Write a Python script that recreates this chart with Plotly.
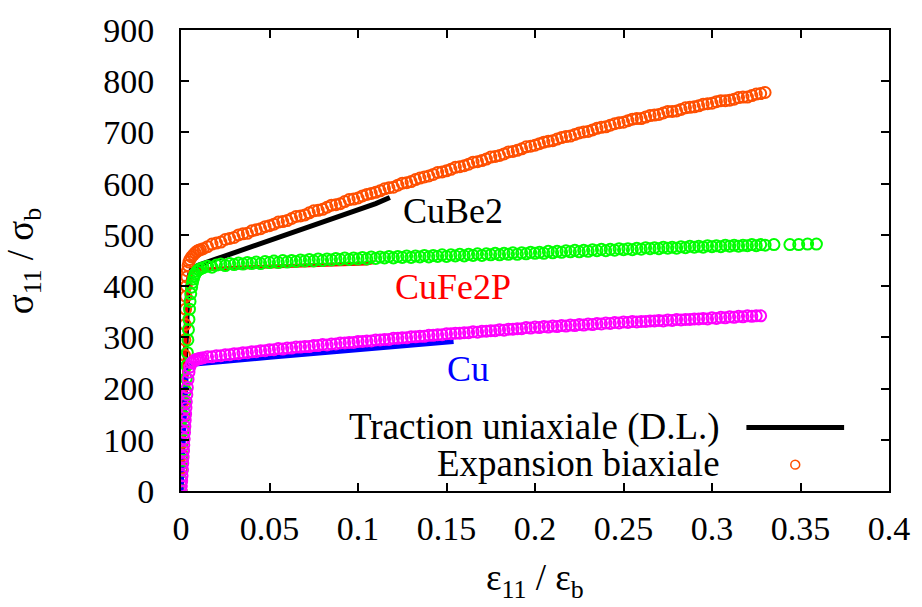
import plotly.graph_objects as go

# ---------------- data ----------------
# biaxial expansion (open circles): steep elastic part + hardening plateau
PLATEAU_X = [0.0125, 0.015, 0.0175, 0.02, 0.0225, 0.025, 0.0275, 0.03, 0.0325, 0.035, 0.0375, 0.04,
             0.0425, 0.045, 0.0475, 0.05,
             0.0525, 0.055, 0.0575, 0.06, 0.0625, 0.065, 0.0675, 0.07, 0.0725, 0.075,
             0.0775, 0.08, 0.0825, 0.085, 0.0875, 0.09, 0.0925, 0.095, 0.0975, 0.1,
             0.1025, 0.105, 0.1075, 0.11, 0.1125, 0.115, 0.1175, 0.12, 0.1225, 0.125,
             0.1275, 0.13, 0.1325, 0.135, 0.1375, 0.14, 0.1425, 0.145, 0.1475, 0.15,
             0.1525, 0.155, 0.1575, 0.16, 0.1625, 0.165, 0.1675, 0.17, 0.1725, 0.175,
             0.1775, 0.18, 0.1825, 0.185, 0.1875, 0.19, 0.1925, 0.195, 0.1975, 0.2,
             0.2025, 0.205, 0.2075, 0.21, 0.2125, 0.215, 0.2175, 0.22, 0.2225, 0.225,
             0.2275, 0.23, 0.2325, 0.235, 0.2375, 0.24, 0.2425, 0.245, 0.2475, 0.25,
             0.2525, 0.255, 0.2575, 0.26, 0.2625, 0.265, 0.2675, 0.27, 0.2725, 0.275,
             0.2775, 0.28, 0.2825, 0.285, 0.2875, 0.29, 0.2925, 0.295, 0.2975, 0.3,
             0.3025, 0.305, 0.3075, 0.31, 0.3125, 0.315, 0.3175, 0.32, 0.3225, 0.325,
             0.3275, 0.33]

cube2_bi_el_x = [0, 0.0002, 0.0004, 0.0006, 0.0008, 0.001, 0.0012, 0.0014, 0.0016, 0.0018,
                 0.002, 0.0022, 0.0024, 0.0026, 0.0028, 0.003, 0.0033, 0.0036, 0.004, 0.0045,
                 0.005, 0.006, 0.007, 0.008, 0.009, 0.010, 0.011]
cube2_bi_el_y = [0, 20, 45, 70, 95, 120, 145, 175, 205, 235,
                 265, 295, 325, 355, 380, 400, 418, 430, 440, 447,
                 452, 457, 461, 465, 468, 470, 471]
cube2_bi_plateau = [473, 477, 482, 484, 486, 491, 493, 495, 500, 502, 503, 508,
                    510, 512, 516, 518,
                    521, 525, 526, 528, 532, 536, 537, 539, 543, 547,
                    548, 550, 554, 558, 559, 561, 565, 569, 570, 572,
                    576, 579, 581, 583, 586, 590, 592, 593, 597, 601,
                    602, 604, 608, 611, 613, 615, 618, 622, 623, 625,
                    628, 632, 633, 635, 638, 642, 643, 645, 648, 652,
                    653, 655, 658, 662, 663, 665, 668, 672, 673, 675,
                    678, 681, 683, 684, 687, 690, 692, 693, 696, 699,
                    701, 702, 705, 708, 710, 711, 714, 717, 719, 720,
                    723, 726, 727, 727, 730, 733, 734, 735, 738, 741,
                    741, 742, 745, 748, 749, 750, 752, 755, 756, 757,
                    760, 762, 762, 763, 765, 768, 769, 769, 772, 775,
                    776, 778]

cufe2p_bi_el_x = [0, 0.0003, 0.0006, 0.0009, 0.0012, 0.0015, 0.0018, 0.0021, 0.0024, 0.0027,
                  0.003, 0.0033, 0.0036, 0.0039, 0.0042, 0.0045, 0.0048, 0.0051, 0.0055, 0.006,
                  0.0065, 0.007, 0.0075, 0.008, 0.009, 0.010, 0.011]
cufe2p_bi_el_y = [0, 20, 40, 60, 80, 100, 120, 145, 170, 195,
                  220, 245, 270, 295, 315, 335, 355, 370, 385, 398,
                  407, 414, 420, 424, 429, 432, 434]
cufe2p_bi_plateau = [436, 439, 437, 441, 443, 440, 444, 442, 445, 443, 446, 444,
                     447, 444, 448, 446,
                     449, 446, 450, 447, 450, 448, 451, 449, 452, 449,
                     453, 450, 453, 451, 454, 452, 455, 452, 455, 453,
                     456, 453, 457, 454, 457, 455, 458, 455, 458, 456,
                     459, 456, 459, 457, 460, 457, 460, 458, 461, 458,
                     461, 459, 462, 459, 462, 460, 463, 460, 463, 461,
                     464, 461, 464, 462, 465, 462, 465, 463, 466, 464,
                     466, 464, 468, 465, 468, 466, 469, 467, 470, 467,
                     470, 468, 471, 469, 472, 469, 472, 470, 473, 471,
                     473, 471, 474, 472, 475, 473, 475, 473, 476, 474,
                     476, 474, 477, 475, 478, 476, 478, 476, 479, 477,
                     479, 477, 480, 478, 480, 478, 480, 479, 481, 479,
                     481, 480]
cufe2p_bi_tail_x = [0.335, 0.344, 0.349, 0.354, 0.359]
cufe2p_bi_tail_y = [481, 481, 481, 482, 482]

cu_bi_el_x = [0, 0.0002, 0.0004, 0.0006, 0.0008, 0.001, 0.0012, 0.0014, 0.0016, 0.0018,
              0.002, 0.0022, 0.0024, 0.0026, 0.0028, 0.003, 0.0033, 0.0036, 0.004, 0.0045,
              0.005, 0.006, 0.007, 0.008, 0.009, 0.010, 0.011]
cu_bi_el_y = [0, 10, 20, 30, 42, 54, 66, 78, 90, 102,
              114, 126, 138, 150, 162, 174, 188, 202, 218, 232,
              242, 250, 253, 256, 257, 258, 259]
cu_bi_plateau = [260, 262, 262, 264, 264, 266, 266, 268, 268, 270, 270, 272,
                 272, 274, 274, 276,
                 276, 278, 277, 279, 279, 281, 281, 282, 282, 284, 284, 286, 285, 287,
                 287, 289, 289, 290, 290, 292,
                 292, 293, 293, 295, 295, 296, 296, 298, 298, 299, 299, 301, 301, 302,
                 302, 304, 304, 305, 305, 307,
                 307, 308, 308, 309, 309, 311, 310, 312, 312, 313, 313, 315, 314, 316,
                 316, 317, 317, 319, 318, 320,
                 319, 321, 320, 322, 321, 323, 322, 324, 323, 325, 324, 326, 325, 327,
                 326, 328, 327, 329, 328, 330,
                 329, 331, 330, 331, 331, 332, 332, 333, 332, 334, 333, 335, 334, 335,
                 335, 336, 336, 337, 336, 338,
                 337, 339, 338, 340, 339, 341, 340, 342, 341, 342,
                 342]

# uniaxial traction (thick lines)
cube2_uni_x = [0, 0.001, 0.002, 0.003, 0.004, 0.005, 0.006, 0.008, 0.010, 0.02, 0.03,
               0.04, 0.05, 0.06, 0.07, 0.08, 0.09, 0.10, 0.11, 0.118]
cube2_uni_y = [0, 120, 240, 340, 400, 425, 433, 438, 441, 453, 465,
               477, 488, 500, 512, 524, 536, 548, 561, 573]
cufe2p_uni_x = [0, 0.001, 0.002, 0.003, 0.004, 0.005, 0.007, 0.01, 0.03, 0.06, 0.09, 0.105, 0.109]
cufe2p_uni_y = [0, 130, 260, 370, 415, 425, 430, 432, 436, 439, 442, 444, 447]
cu_uni_x = [0, 0.001, 0.002, 0.003, 0.004, 0.006, 0.008, 0.05, 0.1, 0.154]
cu_uni_y = [0, 90, 180, 232, 243, 246, 248, 261, 276, 292]

x_tickvals = [0, 0.05, 0.1, 0.15, 0.2, 0.25, 0.3, 0.35, 0.4]
x_ticktext = ["0", "0.05", "0.1", "0.15", "0.2", "0.25", "0.3", "0.35", "0.4"]
y_tickvals = [0, 100, 200, 300, 400, 500, 600, 700, 800, 900]

material_labels = ["CuBe2", "CuFe2P", "Cu"]
label_x = [0.1538, 0.1538, 0.1623]
label_y = [546, 399, 239]
label_colors = ["#000000", "#ff0000", "#0000ff"]

legend_texts = ["Traction uniaxiale (D.L.)", "Expansion biaxiale"]

# ---------------- figure ----------------
FONT = "Liberation Serif"
C_ORANGE = "#ff4f00"
C_GREEN = "#00ff00"
C_MAGENTA = "#ff00ff"

fig = go.Figure()

# uniaxial lines
fig.add_trace(go.Scatter(x=cube2_uni_x, y=cube2_uni_y, mode="lines",
                         line=dict(color="#000000", width=5)))
fig.add_trace(go.Scatter(x=cufe2p_uni_x, y=cufe2p_uni_y, mode="lines",
                         line=dict(color="#ff0000", width=4)))
fig.add_trace(go.Scatter(x=cu_uni_x, y=cu_uni_y, mode="lines",
                         line=dict(color="#0000ff", width=5)))


def circles(color):
    return dict(symbol="circle-open", size=11, color=color, line=dict(width=2, color=color))


fig.add_trace(go.Scatter(x=cube2_bi_el_x + PLATEAU_X[:len(cube2_bi_plateau)],
                         y=cube2_bi_el_y + cube2_bi_plateau,
                         mode="markers", marker=circles(C_ORANGE)))
fig.add_trace(go.Scatter(x=cufe2p_bi_el_x + PLATEAU_X[:len(cufe2p_bi_plateau)] + cufe2p_bi_tail_x,
                         y=cufe2p_bi_el_y + cufe2p_bi_plateau + cufe2p_bi_tail_y,
                         mode="markers", marker=circles(C_GREEN)))
fig.add_trace(go.Scatter(x=cu_bi_el_x + PLATEAU_X[:len(cu_bi_plateau)],
                         y=cu_bi_el_y + cu_bi_plateau,
                         mode="markers", marker=circles(C_MAGENTA)))

annotations = []
for t, xx, yy, c in zip(material_labels, label_x, label_y, label_colors):
    annotations.append(dict(x=xx, y=yy, xref="x", yref="y", text=t, showarrow=False,
                            font=dict(family=FONT, size=36, color=c),
                            xanchor="center", yanchor="middle"))

# manual legend (text left of samples, gnuplot style)
annotations.append(dict(x=0.764, y=0.138, xref="paper", yref="paper", text=legend_texts[0],
                        showarrow=False, xanchor="right", yanchor="middle",
                        font=dict(family=FONT, size=37, color="#000000")))
annotations.append(dict(x=0.764, y=0.059, xref="paper", yref="paper", text=legend_texts[1],
                        showarrow=False, xanchor="right", yanchor="middle",
                        font=dict(family=FONT, size=37, color="#000000")))

# axis titles
annotations.append(dict(x=0.5, y=-0.195, xref="paper", yref="paper",
                        text="ε<sub>11</sub> / ε<sub>b</sub>", showarrow=False,
                        xanchor="center", yanchor="middle",
                        font=dict(family=FONT, size=37, color="#000000")))
annotations.append(dict(x=-0.222, y=0.5, xref="paper", yref="paper",
                        text="σ<sub>11</sub> / σ<sub>b</sub>", showarrow=False,
                        textangle=-90, xanchor="center", yanchor="middle",
                        font=dict(family=FONT, size=37, color="#000000")))

shapes = [
    dict(type="line", xref="paper", yref="paper", x0=0.7986, x1=0.9366, y0=0.138, y1=0.138,
         line=dict(color="#000000", width=5)),
    dict(type="circle", xref="paper", yref="paper",
         x0=0.8676 - 0.0063, x1=0.8676 + 0.0063, y0=0.057 - 0.0095, y1=0.057 + 0.0095,
         line=dict(color=C_ORANGE, width=1.5)),
]

axis_common = dict(showgrid=False, zeroline=False, showline=True, linecolor="#000000",
                   linewidth=2, mirror="allticks", ticks="inside", ticklen=8,
                   tickwidth=1.5, tickcolor="#000000",
                   tickfont=dict(family=FONT, size=34, color="#000000"))

fig.update_layout(
    width=922, height=607, autosize=False,
    margin=dict(l=181, r=31, t=20, b=116, pad=0),
    paper_bgcolor="white", plot_bgcolor="white",
    showlegend=False,
    xaxis=dict(range=[0, 0.4], tickvals=x_tickvals, ticktext=x_ticktext,
               ticklabelstandoff=6, **axis_common),
    yaxis=dict(range=[0, 900], tickvals=y_tickvals, ticklabelstandoff=18, **axis_common),
    annotations=annotations,
    shapes=shapes,
)

fig.write_html("out.html")
